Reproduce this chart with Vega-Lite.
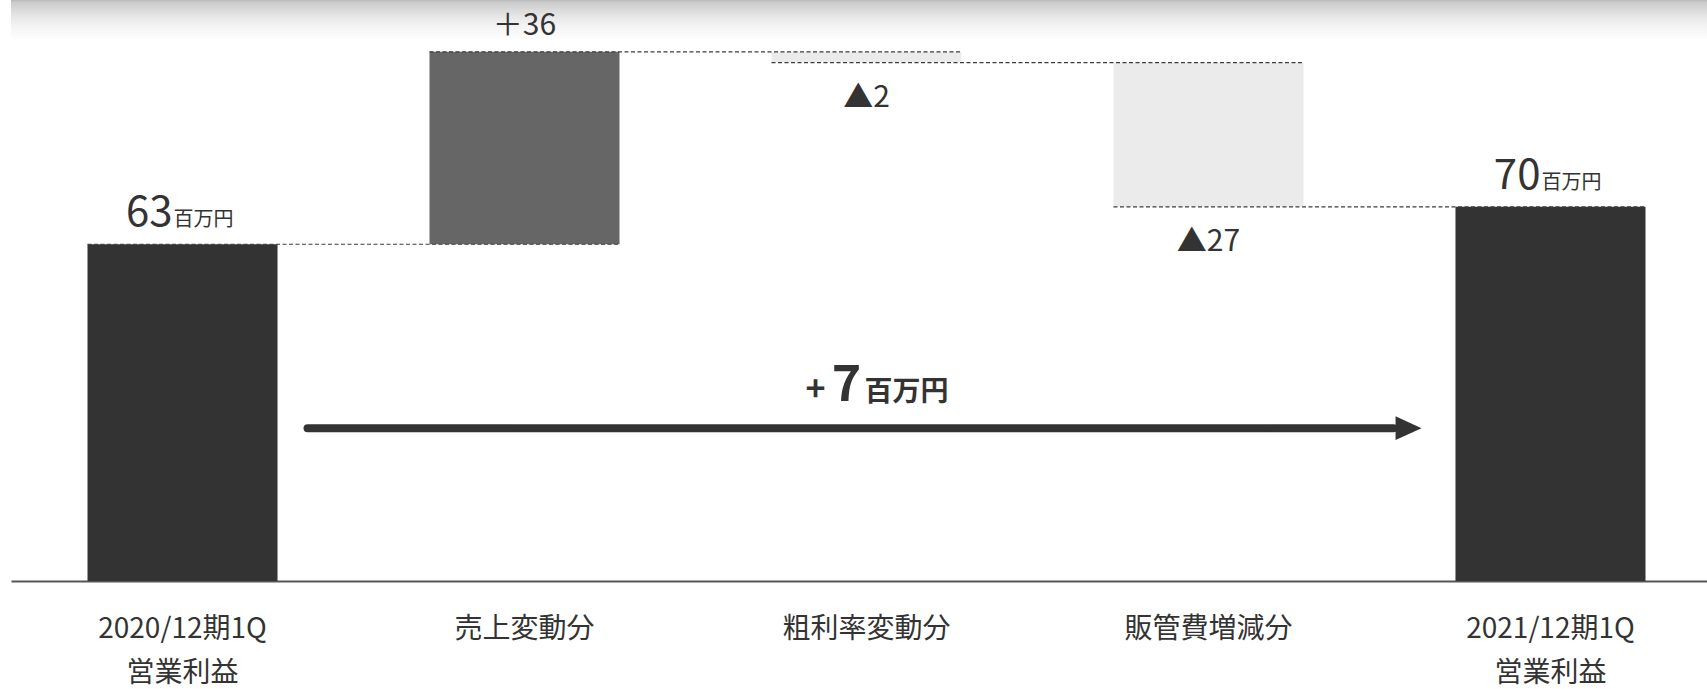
{
  "$schema": "https://vega.github.io/schema/vega-lite/v6.json",
  "width": 1711,
  "height": 581,
  "autosize": "none",
  "padding": {"left": 11, "top": 0, "right": 0, "bottom": 108},
  "background": "#ffffff",
  "config": {
    "view": {
      "stroke": null,
      "fill": {
        "gradient": "linear",
        "x1": 0, "y1": 0, "x2": 0, "y2": 1,
        "stops": [
          {"offset": 0, "color": "#b8b8b8"},
          {"offset": 0.004, "color": "#cbcbcb"},
          {"offset": 0.017, "color": "#dadada"},
          {"offset": 0.03, "color": "#e8e8e8"},
          {"offset": 0.043, "color": "#f2f2f2"},
          {"offset": 0.057, "color": "#f9f9f9"},
          {"offset": 0.07, "color": "#ffffff"},
          {"offset": 1, "color": "#ffffff"}
        ]
      }
    },
    "font": "Noto Sans CJK JP",
    "text": {"font": "Noto Sans CJK JP", "color": "#333333"},
    "axisX": {
      "domainColor": "#555555",
      "domainWidth": 2,
      "ticks": false,
      "tickSize": 0,
      "grid": false,
      "labelPadding": 56,
      "labelBaseline": "alphabetic",
      "labelFont": "Noto Sans CJK JP",
      "labelFontSize": 28,
      "labelColor": "#333333",
      "labelLineHeight": 44,
      "labelAngle": 0,
      "labelLimit": 0,
      "labelOverlap": false,
      "labelExpr": "split(datum.label, ' ')"
    }
  },
  "datasets": {
    "steps": [
      {"cat": "2020/12期1Q 営業利益", "kind": "total", "base": 0, "amount": 63},
      {"cat": "売上変動分", "kind": "up", "base": 63, "amount": 36},
      {"cat": "粗利率変動分", "kind": "down", "base": 99, "amount": -2},
      {"cat": "販管費増減分", "kind": "down", "base": 97, "amount": -27},
      {"cat": "2021/12期1Q 営業利益", "kind": "total", "base": 0, "amount": 70}
    ],
    "links": [
      {"from": "2020/12期1Q 営業利益", "to": "売上変動分", "level": 63},
      {"from": "売上変動分", "to": "粗利率変動分", "level": 99},
      {"from": "粗利率変動分", "to": "販管費増減分", "level": 97},
      {"from": "販管費増減分", "to": "2021/12期1Q 営業利益", "level": 70}
    ],
    "net": [
      {"from": "2020/12期1Q 営業利益", "to": "2021/12期1Q 営業利益", "mid": "粗利率変動分", "change": 7}
    ]
  },
  "layer": [
    {
      "data": {"name": "steps"},
      "transform": [{"calculate": "datum.base + datum.amount", "as": "top"}],
      "mark": {"type": "bar"},
      "encoding": {
        "x": {
          "field": "cat", "type": "nominal", "title": null,
          "scale": {"domain": ["2020/12期1Q 営業利益", "売上変動分", "粗利率変動分", "販管費増減分", "2021/12期1Q 営業利益"], "paddingInner": 0.4444, "paddingOuter": 0.2237, "align": 0.5}
        },
        "y": {"field": "top", "type": "quantitative", "scale": {"domain": [0, 108.7], "nice": false, "zero": true}, "axis": null},
        "y2": {"field": "base"},
        "color": {
          "field": "kind", "type": "nominal", "legend": null,
          "scale": {"domain": ["total", "up", "down"], "range": ["#333333", "#666666", "#ebebeb"]}
        }
      }
    },
    {
      "data": {"name": "links"},
      "mark": {"type": "rule", "strokeDash": [4, 2.5], "strokeWidth": 1.2, "color": "#3c3c3c"},
      "encoding": {
        "x": {
          "field": "from", "type": "nominal", "title": null, "bandPosition": 0,
          "scale": {"domain": ["2020/12期1Q 営業利益", "売上変動分", "粗利率変動分", "販管費増減分", "2021/12期1Q 営業利益"], "paddingInner": 0.4444, "paddingOuter": 0.2237, "align": 0.5}
        },
        "x2": {"field": "to", "bandPosition": 1},
        "y": {"field": "level", "type": "quantitative", "scale": {"domain": [0, 108.7], "nice": false, "zero": true}, "axis": null}
      }
    },
    {
      "data": {"name": "steps"},
      "transform": [
        {"filter": "datum.kind === 'up'"},
        {"calculate": "datum.base + datum.amount", "as": "top"},
        {"calculate": "'＋' + datum.amount", "as": "label"}
      ],
      "mark": {"type": "text", "fontSize": 30, "align": "center", "baseline": "alphabetic", "dy": -17},
      "encoding": {
        "x": {
          "field": "cat", "type": "nominal", "title": null,
          "scale": {"domain": ["2020/12期1Q 営業利益", "売上変動分", "粗利率変動分", "販管費増減分", "2021/12期1Q 営業利益"], "paddingInner": 0.4444, "paddingOuter": 0.2237, "align": 0.5}
        },
        "y": {"field": "top", "type": "quantitative", "scale": {"domain": [0, 108.7], "nice": false, "zero": true}, "axis": null},
        "text": {"field": "label"}
      }
    },
    {
      "data": {"name": "steps"},
      "transform": [
        {"filter": "datum.kind === 'down'"},
        {"calculate": "datum.base + datum.amount", "as": "top"},
        {"calculate": "'▲' + abs(datum.amount)", "as": "label"}
      ],
      "mark": {"type": "text", "fontSize": 30, "align": "center", "baseline": "alphabetic", "dy": 44},
      "encoding": {
        "x": {
          "field": "cat", "type": "nominal", "title": null,
          "scale": {"domain": ["2020/12期1Q 営業利益", "売上変動分", "粗利率変動分", "販管費増減分", "2021/12期1Q 営業利益"], "paddingInner": 0.4444, "paddingOuter": 0.2237, "align": 0.5}
        },
        "y": {"field": "top", "type": "quantitative", "scale": {"domain": [0, 108.7], "nice": false, "zero": true}, "axis": null},
        "text": {"field": "label"}
      }
    },
    {
      "data": {"name": "steps"},
      "transform": [
        {"filter": "datum.kind === 'total'"},
        {"calculate": "datum.base + datum.amount", "as": "top"}
      ],
      "mark": {"type": "text", "fontSize": 42, "align": "right", "baseline": "alphabetic", "dx": -10, "dy": -18},
      "encoding": {
        "x": {
          "field": "cat", "type": "nominal", "title": null,
          "scale": {"domain": ["2020/12期1Q 営業利益", "売上変動分", "粗利率変動分", "販管費増減分", "2021/12期1Q 営業利益"], "paddingInner": 0.4444, "paddingOuter": 0.2237, "align": 0.5}
        },
        "y": {"field": "top", "type": "quantitative", "scale": {"domain": [0, 108.7], "nice": false, "zero": true}, "axis": null},
        "text": {"field": "amount"}
      }
    },
    {
      "data": {"name": "steps"},
      "transform": [
        {"filter": "datum.kind === 'total'"},
        {"calculate": "datum.base + datum.amount", "as": "top"}
      ],
      "mark": {"type": "text", "text": "百万円", "fontSize": 20, "align": "left", "baseline": "alphabetic", "dx": -9, "dy": -18},
      "encoding": {
        "x": {
          "field": "cat", "type": "nominal", "title": null,
          "scale": {"domain": ["2020/12期1Q 営業利益", "売上変動分", "粗利率変動分", "販管費増減分", "2021/12期1Q 営業利益"], "paddingInner": 0.4444, "paddingOuter": 0.2237, "align": 0.5}
        },
        "y": {"field": "top", "type": "quantitative", "scale": {"domain": [0, 108.7], "nice": false, "zero": true}, "axis": null}
      }
    },
    {
      "data": {"name": "net"},
      "mark": {"type": "rule", "strokeWidth": 8, "strokeCap": "round", "color": "#333333"},
      "encoding": {
        "x": {
          "field": "from", "type": "nominal", "title": null, "bandPosition": 1.158,
          "scale": {"domain": ["2020/12期1Q 営業利益", "売上変動分", "粗利率変動分", "販管費増減分", "2021/12期1Q 営業利益"], "paddingInner": 0.4444, "paddingOuter": 0.2237, "align": 0.5}
        },
        "x2": {"field": "to", "bandPosition": -0.326},
        "y": {"datum": 28.6, "type": "quantitative", "scale": {"domain": [0, 108.7], "nice": false, "zero": true}, "axis": null}
      }
    },
    {
      "data": {"name": "net"},
      "mark": {"type": "point", "shape": "M-1,-0.92L1,0L-1,0.92Z", "size": 676, "filled": true, "opacity": 1, "color": "#333333", "strokeWidth": 0},
      "encoding": {
        "x": {
          "field": "to", "type": "nominal", "title": null, "bandPosition": -0.247,
          "scale": {"domain": ["2020/12期1Q 営業利益", "売上変動分", "粗利率変動分", "販管費増減分", "2021/12期1Q 営業利益"], "paddingInner": 0.4444, "paddingOuter": 0.2237, "align": 0.5}
        },
        "y": {"datum": 28.6, "type": "quantitative", "scale": {"domain": [0, 108.7], "nice": false, "zero": true}, "axis": null}
      }
    },
    {
      "data": {"name": "net"},
      "mark": {"type": "text", "text": "+", "fontSize": 34, "fontWeight": "bold", "align": "center", "baseline": "alphabetic", "dx": -51},
      "encoding": {
        "x": {
          "field": "mid", "type": "nominal", "title": null,
          "scale": {"domain": ["2020/12期1Q 営業利益", "売上変動分", "粗利率変動分", "販管費増減分", "2021/12期1Q 営業利益"], "paddingInner": 0.4444, "paddingOuter": 0.2237, "align": 0.5}
        },
        "y": {"datum": 33.7, "type": "quantitative", "scale": {"domain": [0, 108.7], "nice": false, "zero": true}, "axis": null}
      }
    },
    {
      "data": {"name": "net"},
      "mark": {"type": "text", "fontSize": 50, "fontWeight": "bold", "align": "center", "baseline": "alphabetic", "dx": -20},
      "encoding": {
        "x": {
          "field": "mid", "type": "nominal", "title": null,
          "scale": {"domain": ["2020/12期1Q 営業利益", "売上変動分", "粗利率変動分", "販管費増減分", "2021/12期1Q 営業利益"], "paddingInner": 0.4444, "paddingOuter": 0.2237, "align": 0.5}
        },
        "y": {"datum": 33.7, "type": "quantitative", "scale": {"domain": [0, 108.7], "nice": false, "zero": true}, "axis": null},
        "text": {"field": "change"}
      }
    },
    {
      "data": {"name": "net"},
      "mark": {"type": "text", "text": "百万円", "fontSize": 28, "fontWeight": "bold", "align": "left", "baseline": "alphabetic", "dx": -2},
      "encoding": {
        "x": {
          "field": "mid", "type": "nominal", "title": null,
          "scale": {"domain": ["2020/12期1Q 営業利益", "売上変動分", "粗利率変動分", "販管費増減分", "2021/12期1Q 営業利益"], "paddingInner": 0.4444, "paddingOuter": 0.2237, "align": 0.5}
        },
        "y": {"datum": 33.7, "type": "quantitative", "scale": {"domain": [0, 108.7], "nice": false, "zero": true}, "axis": null}
      }
    }
  ]
}
